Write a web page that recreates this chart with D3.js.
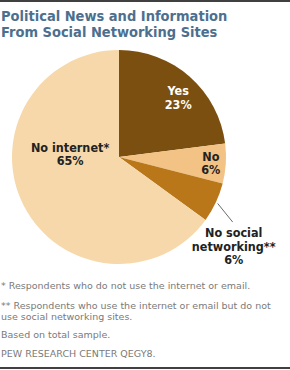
<!DOCTYPE html>
<html><head><meta charset="utf-8">
<script src="https://cdn.jsdelivr.net/npm/d3@7"></script>
<style>
body{margin:0;background:#fff;}
svg{display:block;}
</style></head>
<body>
<svg id="c" width="290" height="370"></svg>
<script>
const title = ["Political News and Information", "From Social Networking Sites"];
const categories = ["Yes", "No", "No social networking**", "No internet*"];
const values = [23, 6, 6, 65];
const labelLines = [["Yes", "23%"], ["No", "6%"], ["No social", "networking**", "6%"], ["No internet*", "65%"]];
const colors = ["#7b4f10", "#f2c385", "#b9771a", "#f6d8aa"];
const textColors = ["#ffffff", "#222222", "#222222", "#222222"];
const footnotes = [
  ["* Respondents who do not use the internet or email."],
  ["** Respondents who use the internet or email but do not", "use social networking sites."],
  ["Based on total sample."],
  ["PEW RESEARCH  CENTER QEGY8."]
];

const svg = d3.select("#c");
const font = "'DejaVu Sans Condensed', 'DejaVu Sans', sans-serif";
const fnFont = "'DejaVu Sans', sans-serif";

svg.append("line").attr("x1", 0).attr("x2", 290).attr("y1", 1).attr("y2", 1)
  .attr("stroke", "#000").attr("stroke-width", 1.5);
svg.append("line").attr("x1", 0).attr("x2", 290).attr("y1", 368).attr("y2", 368)
  .attr("stroke", "#000").attr("stroke-width", 1.5);

svg.selectAll("text.title").data(title).join("text").attr("class", "title")
  .attr("x", 1).attr("y", (d, i) => 21 + i * 16)
  .attr("font-family", font).attr("font-weight", "bold").attr("font-size", 14.5)
  .attr("fill", "#4d6f8f").text(d => d);

const cx = 119, cy = 157, R = 107;
const g = svg.append("g").attr("transform", `translate(${cx},${cy})`);
const pie = d3.pie().sort(null).value(d => d);
const arcs = pie(values);
const arc = d3.arc().innerRadius(0).outerRadius(R);
g.selectAll("path").data(arcs).join("path").attr("d", arc)
  .attr("fill", (d, i) => colors[i]);

// label placement: angle offset (radians) and radius relative to slice midangle
const place = [
  {da: 0.06, r: 84, out: false},
  {da: 0.0, r: 92, out: false},
  {da: 0.0, r: 0, out: true},
  {da: 0.53, r: 49, out: false}
];
const lh = 13.5;
arcs.forEach((a, i) => {
  const mid = (a.startAngle + a.endAngle) / 2;
  const p = place[i];
  let x, y;
  if (p.out) {
    const p1 = [Math.sin(mid) * (R + 2), -Math.cos(mid) * (R + 2)];
    const ang2 = mid + 0.08;
    const p2 = [Math.sin(ang2) * 131, -Math.cos(ang2) * 131];
    g.append("line").attr("x1", p1[0]).attr("y1", p1[1]).attr("x2", p2[0]).attr("y2", p2[1])
      .attr("stroke", "#444").attr("stroke-width", 0.8);
    x = p2[0] + 1; y = p2[1] + 24;
  } else {
    const ang = mid + p.da;
    x = Math.sin(ang) * p.r; y = -Math.cos(ang) * p.r;
  }
  const lines = labelLines[i];
  const t = g.append("text").attr("text-anchor", "middle")
    .attr("font-family", font).attr("font-weight", "bold").attr("font-size", 12.5)
    .attr("fill", textColors[i]);
  lines.forEach((l, j) => {
    t.append("tspan").attr("x", x)
      .attr("y", y + (j - (lines.length - 1) / 2) * lh + 4.5).text(l);
  });
});

const fnY = [289, 309, 338, 357];
footnotes.forEach((f, i) => {
  const t = svg.append("text").attr("font-family", fnFont).attr("font-size", 9.5)
    .attr("fill", "#7a7a7a");
  f.forEach((l, j) => t.append("tspan").attr("x", 1).attr("y", fnY[i] + j * 10.5).text(l));
});
</script>
</body></html>
